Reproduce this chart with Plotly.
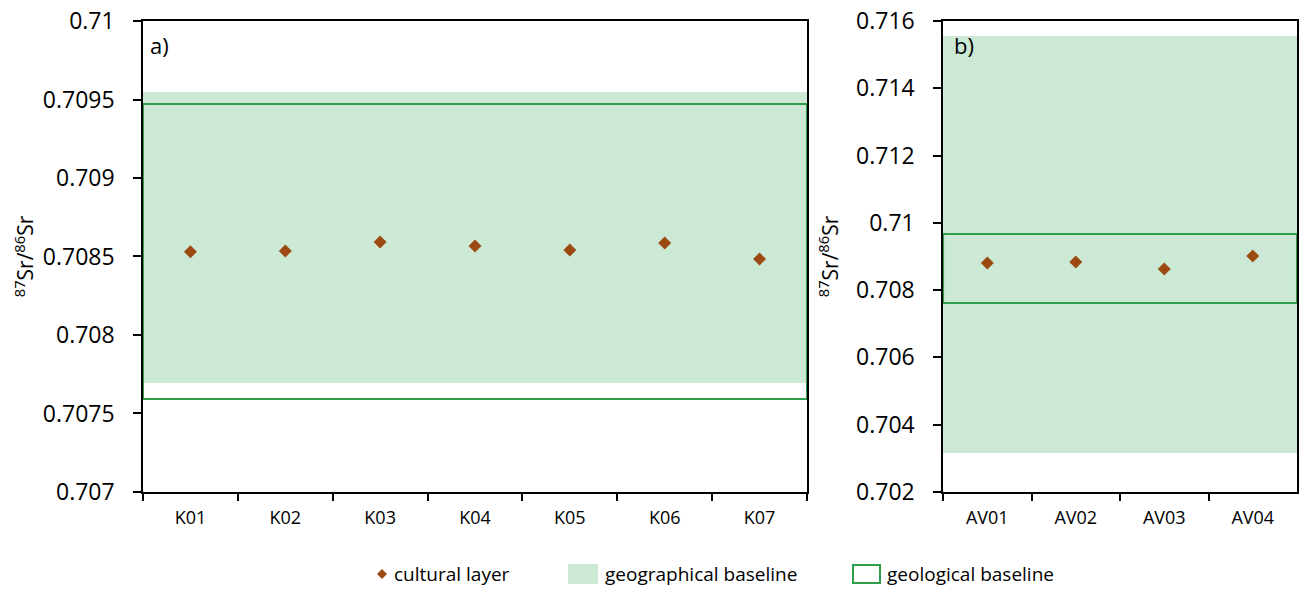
import plotly.graph_objects as go
from plotly.subplots import make_subplots

# ---- data ----
cats_a = ["K01", "K02", "K03", "K04", "K05", "K06", "K07"]
vals_a = [0.70853, 0.708535, 0.708592, 0.708567, 0.708541, 0.708586, 0.708484]
geog_a = [0.707694, 0.709548]   # geographical baseline (low, high)
geol_a = [0.707592, 0.709471]   # geological baseline (low, high)

cats_b = ["AV01", "AV02", "AV03", "AV04"]
vals_b = [0.708807, 0.708837, 0.708629, 0.709015]
geog_b = [0.703159, 0.715554]
geol_b = [0.707618, 0.709668]

yticks_a = [0.707, 0.7075, 0.708, 0.7085, 0.709, 0.7095, 0.71]
yticks_b = [0.702, 0.704, 0.706, 0.708, 0.71, 0.712, 0.714, 0.716]

FONT = "Open Sans"
BAND = "#cce9d6"
GEOL = "#2f9e48"
PT = "#9c4a12"

fig = make_subplots(rows=1, cols=2)

fig.add_trace(go.Scatter(x=cats_a, y=vals_a, mode="markers",
                         marker=dict(symbol="diamond", size=10, color=PT),
                         showlegend=False), row=1, col=1)
fig.add_trace(go.Scatter(x=cats_b, y=vals_b, mode="markers",
                         marker=dict(symbol="diamond", size=10, color=PT),
                         showlegend=False), row=1, col=2)

for xr, yr, geog, geol in [("x", "y", geog_a, geol_a), ("x2", "y2", geog_b, geol_b)]:
    fig.add_shape(type="rect", xref=xr + " domain", yref=yr, x0=0, x1=1,
                  y0=geog[0], y1=geog[1], fillcolor=BAND, line=dict(width=0),
                  layer="below")
    fig.add_shape(type="rect", xref=xr + " domain", yref=yr, x0=0, x1=1,
                  y0=geol[0], y1=geol[1], fillcolor="rgba(0,0,0,0)",
                  line=dict(color=GEOL, width=2), layer="below")

axis_common = dict(showline=True, linecolor="black", linewidth=1.5, mirror=True,
                   showgrid=False, zeroline=False, automargin=False)

xcommon = dict(tickson="boundaries", ticks="outside", ticklen=7, tickcolor="black",
               tickwidth=1.5, ticklabelstandoff=9,
               tickfont=dict(family=FONT, size=18, color="black"), **axis_common)
fig.update_xaxes(domain=[0.1095, 0.6179], range=[-0.5, 6.5], row=1, col=1, **xcommon)
fig.update_xaxes(domain=[0.7221, 0.9931], range=[-0.5, 3.5], row=1, col=2, **xcommon)

ycommon = dict(ticks="outside", ticklen=8, tickcolor="black", tickwidth=1.5,
               ticklabelstandoff=14,
               tickfont=dict(family=FONT, size=23, color="black"), **axis_common)
tfont = dict(family=FONT, size=21, color="black")
fig.update_yaxes(range=[0.707, 0.71], tickvals=yticks_a,
                 ticktext=[f"{v:g}" for v in yticks_a],
                 title=dict(text="<sup>87</sup>Sr/<sup>86</sup>Sr", font=tfont, standoff=3),
                 row=1, col=1, **ycommon)
fig.update_yaxes(range=[0.702, 0.716], tickvals=yticks_b,
                 ticktext=[f"{v:g}" for v in yticks_b],
                 title=dict(text="<sup>87</sup>Sr/<sup>86</sup>Sr", font=tfont, standoff=12),
                 row=1, col=2, **ycommon)
fig.update_yaxes(domain=[0.169, 0.9645])

# panel labels
fig.add_annotation(x=0.008, y=0.985, xref="x domain", yref="y domain", text="a)",
                   showarrow=False, xanchor="left", yanchor="top",
                   font=dict(family=FONT, size=22, color="black"))
fig.add_annotation(x=0.025, y=0.985, xref="x2 domain", yref="y2 domain", text="b)",
                   showarrow=False, xanchor="left", yanchor="top",
                   font=dict(family=FONT, size=22, color="black"))

# legend (drawn in paper coordinates)
W, H = 1306, 592
def px(x):
    return x / W
def py(y):
    return 1 - y / H

ly = 574
fig.add_shape(type="path", xref="paper", yref="paper",
              path=f"M {px(382)},{py(ly-5)} L {px(387)},{py(ly)} L {px(382)},{py(ly+5)} L {px(377)},{py(ly)} Z",
              fillcolor=PT, line=dict(width=0))
LF = dict(family=FONT, size=19, color="black")
fig.add_annotation(x=px(392), y=py(ly), xref="paper", yref="paper", text="cultural layer",
                   showarrow=False, xanchor="left", yanchor="middle", font=LF)
fig.add_shape(type="rect", xref="paper", yref="paper", x0=px(568), x1=px(598),
              y0=py(584), y1=py(564), fillcolor=BAND, line=dict(width=0))
fig.add_annotation(x=px(603), y=py(ly), xref="paper", yref="paper", text="geographical baseline",
                   showarrow=False, xanchor="left", yanchor="middle", font=LF)
fig.add_shape(type="rect", xref="paper", yref="paper", x0=px(853), x1=px(880),
              y0=py(583), y1=py(565), fillcolor="white", line=dict(color=GEOL, width=2))
fig.add_annotation(x=px(885), y=py(ly), xref="paper", yref="paper", text="geological baseline",
                   showarrow=False, xanchor="left", yanchor="middle", font=LF)

fig.update_layout(width=1306, height=592, margin=dict(l=0, r=0, t=0, b=0),
                  plot_bgcolor="white", paper_bgcolor="white", showlegend=False,
                  font=dict(family=FONT, color="black"))

fig.write_html("out.html")
